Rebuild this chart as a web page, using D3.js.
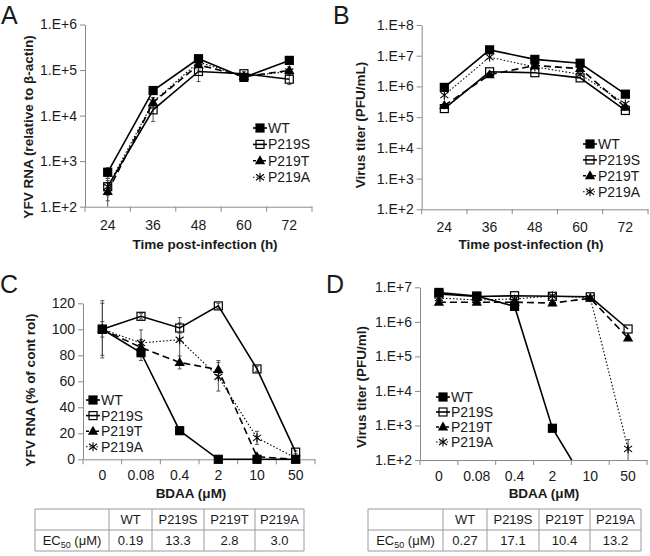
<!DOCTYPE html>
<html>
<head>
<meta charset="utf-8">
<script src="https://cdn.jsdelivr.net/npm/d3@7"></script>
<style>
body { margin: 0; background: #fff; }
text { font-family: "Liberation Sans", Arial, sans-serif; fill: #1a1a1a; }
</style>
</head>
<body>
<svg id="fig" width="650" height="556"></svg>
<script>
// ---- data ----
var seriesNames = ["WT", "P219S", "P219T", "P219A"];
var timeLabels = ["24", "36", "48", "60", "72"];
var doseLabels = ["0", "0.08", "0.4", "2", "10", "50"];

// A: YFV RNA relative to beta-actin, per series (order of seriesNames)
var rnaTime = [
	[570, 35500, 177000, 69000, 163000],
	[275, 13400, 93000, 83000, 63000],
	[214, 19400, 130000, 72000, 98000],
	[275, 20000, 150000, 72000, 93000]
];
var rnaTimeErr = [
	[150, 6000, 30000, 9000, 20000],
	[140, 6000, 37000, 9000, 15000],
	[114, 5000, 30000, 8000, 20000],
	[100, 5000, 20000, 8000, 15000]
];

// B: virus titer (PFU/mL)
var titerTime = [
	[930000, 15500000, 7600000, 5700000, 560000],
	[190000, 3000000, 2800000, 1900000, 165000],
	[240000, 2400000, 4800000, 3800000, 210000],
	[520000, 9000000, 4300000, 2500000, 270000]
];

// C: YFV RNA (% of control) vs BDAA
var rnaDose = [
	[100, 82, 22, 0, 0, 0],
	[100, 110, 101, 118, 69.5, 5.5],
	[100, 86, 74.5, 69, 2, 0],
	[100, 89.5, 92, 63.5, 16.5, 1]
];
var rnaDoseErr = [
	[20, 6, 1, 0, 0, 0],
	[3, 2, 4, 2, 2, 1],
	[6, 6, 5, 7, 1, 0],
	[22, 10, 17, 11, 5, 0]
];

// D: virus titer (PFU/ml) vs BDAA
var titerDose = [
	[7100000, 5600000, 2800000, 830, 13, 10],
	[6400000, 5400000, 5700000, 5500000, 5300000, 620000],
	[3700000, 3700000, 3700000, 3500000, 4800000, 340000],
	[4900000, 4300000, 4600000, 5600000, 5000000, 210]
];
var titerDoseErr = [
	[0, 0, 0, 0, 0, 0],
	[0, 0, 0, 0, 0, 0],
	[0, 0, 0, 0, 0, 0],
	[0, 800000, 0, 0, 0, 180]
];

// EC50 tables
var ec50Rna = ["0.19", "13.3", "2.8", "3.0"];
var ec50Titer = ["0.27", "17.1", "10.4", "13.2"];

// ---- styles ----
var seriesStyle = [
	{ dash: null, width: 1.6, marker: "square" },
	{ dash: null, width: 1.6, marker: "open" },
	{ dash: "7,4", width: 1.6, marker: "triangle" },
	{ dash: "1.5,2", width: 1.1, marker: "star" }
];
var axisColor = "#8a8a8a";

var svg = d3.select("#fig");

function drawMarker(g, type, cx, cy) {
	if (type === "square" || type === "open") {
		g.append("rect")
			.attr("x", cx - 4).attr("y", cy - 4)
			.attr("width", 8).attr("height", 8)
			.attr("fill", type === "square" ? "#000" : "none")
			.attr("stroke", "#000").attr("stroke-width", 1.2);
	} else if (type === "triangle") {
		g.append("path")
			.attr("d", d3.symbol().type(d3.symbolTriangle).size(46)())
			.attr("transform", "translate(" + cx + "," + (cy + 0.5) + ")")
			.attr("fill", "#000");
	} else {
		g.append("path")
			.attr("d", "M0,-4.5V4.5M-4,-3L4,3M-4,3L4,-3")
			.attr("transform", "translate(" + cx + "," + cy + ")")
			.attr("stroke", "#000").attr("stroke-width", 1.1).attr("fill", "none");
	}
}

function logFormat(d) {
	return "1.E+" + Math.round(Math.log10(d));
}

var clipId = 0;

function drawPanel(cfg) {
	var g = svg.append("g");
	var x = d3.scaleBand().domain(cfg.cats).range(cfg.xRange);
	var y = cfg.log ? d3.scaleLog().domain(cfg.yDomain).range(cfg.yRange)
		: d3.scaleLinear().domain(cfg.yDomain).range(cfg.yRange);
	var bw = x.bandwidth();
	var y0 = cfg.yRange[0];

	// y axis
	var ya = g.append("g")
		.attr("transform", "translate(" + cfg.xRange[0] + ",0)")
		.call(d3.axisLeft(y).tickValues(cfg.yTicks).tickSize(5).tickSizeOuter(0)
			.tickPadding(3).tickFormat(cfg.fmt));
	// x axis (labels only, ticks between categories)
	var xa = g.append("g")
		.attr("transform", "translate(0," + y0 + ")")
		.call(d3.axisBottom(x).tickSize(0).tickSizeOuter(0).tickPadding(cfg.xPad));
	[ya, xa].forEach(function(a) {
		a.select(".domain").attr("stroke", axisColor);
		a.selectAll(".tick line").attr("stroke", axisColor);
		a.selectAll("text").attr("font-size", 14).attr("fill", "#1a1a1a")
			.attr("font-family", "Liberation Sans, Arial, sans-serif");
	});
	g.append("g").selectAll("line")
		.data(d3.range(cfg.cats.length + 1))
		.enter().append("line")
		.attr("x1", function(i) { return cfg.xRange[0] + i * x.step(); })
		.attr("x2", function(i) { return cfg.xRange[0] + i * x.step(); })
		.attr("y1", y0).attr("y2", y0 + 5)
		.attr("stroke", axisColor);

	// clip (log panels cut at the axis, linear ones let markers sit on it)
	var id = "clip" + (clipId++);
	var below = cfg.log ? 0 : 6;
	g.append("clipPath").attr("id", id).append("rect")
		.attr("x", cfg.xRange[0]).attr("y", cfg.yRange[1] - 10)
		.attr("width", cfg.xRange[1] - cfg.xRange[0])
		.attr("height", y0 - cfg.yRange[1] + 10 + below);
	var plot = g.append("g").attr("clip-path", "url(#" + id + ")");

	function px(i) { return x(cfg.cats[i]) + bw / 2; }
	function py(v) {
		if (cfg.log && v <= 0) return y0 + 100;
		return y(v);
	}

	// error bars
	if (cfg.err) {
		cfg.values.forEach(function(vals, s) {
			vals.forEach(function(v, i) {
				var e = cfg.err[s][i];
				if (!e) return;
				var lo = v - e, hi = v + e;
				var ylo = (cfg.log && lo <= cfg.yDomain[0]) ? y0 : py(lo);
				var yhi = py(hi);
				plot.append("line").attr("x1", px(i)).attr("x2", px(i))
					.attr("y1", ylo).attr("y2", yhi)
					.attr("stroke", "#444").attr("stroke-width", 0.9);
				[ylo, yhi].forEach(function(yy) {
					if (yy >= y0) return;
					plot.append("line").attr("x1", px(i) - 2).attr("x2", px(i) + 2)
						.attr("y1", yy).attr("y2", yy)
						.attr("stroke", "#444").attr("stroke-width", 0.9);
				});
			});
		});
	}

	// lines
	var line = d3.line().x(function(d, i) { return px(i); }).y(function(d) { return py(d); });
	cfg.values.forEach(function(vals, s) {
		plot.append("path").attr("d", line(vals))
			.attr("fill", "none").attr("stroke", "#000")
			.attr("stroke-width", seriesStyle[s].width)
			.attr("stroke-dasharray", seriesStyle[s].dash);
	});
	// markers
	cfg.values.forEach(function(vals, s) {
		vals.forEach(function(v, i) {
			var yy = py(v);
			if (yy > y0 + 1) return;
			drawMarker(plot, seriesStyle[s].marker, px(i), yy);
		});
	});

	// legend
	var lg = g.append("g");
	seriesNames.forEach(function(name, s) {
		var ly = cfg.legend.y + s * cfg.legend.dy;
		var lx = cfg.legend.x;
		lg.append("line").attr("x1", lx - 7).attr("x2", lx + 7)
			.attr("y1", ly).attr("y2", ly)
			.attr("stroke", "#000").attr("stroke-width", seriesStyle[s].width)
			.attr("stroke-dasharray", seriesStyle[s].dash ? (s === 2 ? "3,2" : "1.5,2") : null);
		drawMarker(lg, seriesStyle[s].marker, lx, ly);
		lg.append("text").attr("x", lx + 8).attr("y", ly).attr("dy", "0.36em")
			.attr("font-size", 14).text(name);
	});

	// titles
	g.append("text").attr("x", cfg.xTitle[0]).attr("y", cfg.xTitle[1])
		.attr("text-anchor", "middle").attr("font-size", 13.5).attr("font-weight", "bold")
		.text(cfg.xLabel);
	g.append("text")
		.attr("transform", "translate(" + cfg.yTitle[0] + "," + cfg.yTitle[1] + ") rotate(-90)")
		.attr("text-anchor", "middle").attr("font-size", 13.5).attr("font-weight", "bold")
		.text(cfg.yLabel);
	g.append("text").attr("x", cfg.letter[0]).attr("y", cfg.letter[1])
		.attr("font-size", 25).text(cfg.letterText);
}

function drawTable(cols, rows, values) {
	var g = svg.append("g");
	var stroke = "#9a9a9a";
	rows.forEach(function(ry) {
		g.append("line").attr("x1", cols[0]).attr("x2", cols[cols.length - 1])
			.attr("y1", ry).attr("y2", ry).attr("stroke", stroke);
	});
	cols.forEach(function(cx) {
		g.append("line").attr("x1", cx).attr("x2", cx)
			.attr("y1", rows[0]).attr("y2", rows[rows.length - 1]).attr("stroke", stroke);
	});
	var mid = function(a, b) { return (a + b) / 2; };
	seriesNames.forEach(function(name, i) {
		g.append("text").attr("x", mid(cols[i + 1], cols[i + 2]))
			.attr("y", mid(rows[0], rows[1])).attr("dy", "0.36em")
			.attr("text-anchor", "middle").attr("font-size", 13).text(name);
		g.append("text").attr("x", mid(cols[i + 1], cols[i + 2]))
			.attr("y", mid(rows[1], rows[2])).attr("dy", "0.36em")
			.attr("text-anchor", "middle").attr("font-size", 13).text(values[i]);
	});
	var t = g.append("text").attr("x", mid(cols[0], cols[1]))
		.attr("y", mid(rows[1], rows[2])).attr("dy", "0.36em")
		.attr("text-anchor", "middle").attr("font-size", 13);
	t.append("tspan").text("EC");
	t.append("tspan").attr("font-size", 9).attr("dy", 3).text("50");
	t.append("tspan").attr("dy", -3).text(" (\u03bcM)");
}

drawPanel({
	cats: timeLabels, values: rnaTime, err: rnaTimeErr, log: true,
	xRange: [85, 312], yRange: [206.7, 24.5], yDomain: [1e2, 1e6],
	yTicks: [1e2, 1e3, 1e4, 1e5, 1e6], fmt: logFormat, xPad: 13,
	legend: { x: 260, y: 128, dy: 16.4 },
	xLabel: "Time post-infection (h)", xTitle: [205, 249],
	yLabel: "YFV RNA (relative to \u03b2-actin)", yTitle: [33, 127],
	letter: [1, 24], letterText: "A"
});

drawPanel({
	cats: timeLabels, values: titerTime, err: null, log: true,
	xRange: [421.7, 648], yRange: [209.3, 25], yDomain: [1e2, 1e8],
	yTicks: [1e2, 1e3, 1e4, 1e5, 1e6, 1e7, 1e8], fmt: logFormat, xPad: 13,
	legend: { x: 590, y: 144, dy: 15.9 },
	xLabel: "Time post-infection (h)", xTitle: [531, 249],
	yLabel: "Virus titer (PFU/mL)", yTitle: [365, 125],
	letter: [333, 24], letterText: "B"
});

drawPanel({
	cats: doseLabels, values: rnaDose, err: rnaDoseErr, log: false,
	xRange: [83, 315], yRange: [459.3, 303.3], yDomain: [0, 120],
	yTicks: d3.range(0, 121, 20), fmt: d3.format("d"), xPad: 11,
	legend: { x: 93, y: 400, dy: 15.6 },
	xLabel: "BDAA (\u03bcM)", xTitle: [191, 498],
	yLabel: "YFV RNA (% of cont rol)", yTitle: [35, 390],
	letter: [0, 293], letterText: "C"
});

drawPanel({
	cats: doseLabels, values: titerDose, err: titerDoseErr, log: true,
	xRange: [420, 647], yRange: [460, 287.3], yDomain: [1e2, 1e7],
	yTicks: [1e2, 1e3, 1e4, 1e5, 1e6, 1e7], fmt: logFormat, xPad: 11,
	legend: { x: 443, y: 397, dy: 15 },
	xLabel: "BDAA (\u03bcM)", xTitle: [544, 498],
	yLabel: "Virus titer (PFU/ml)", yTitle: [366, 387],
	letter: [326, 293], letterText: "D"
});

drawTable([35, 109, 152, 204, 255, 304], [509, 530, 551], ec50Rna);
drawTable([368, 443, 487, 539, 590, 641], [509, 530, 551], ec50Titer);
</script>
</body>
</html>
